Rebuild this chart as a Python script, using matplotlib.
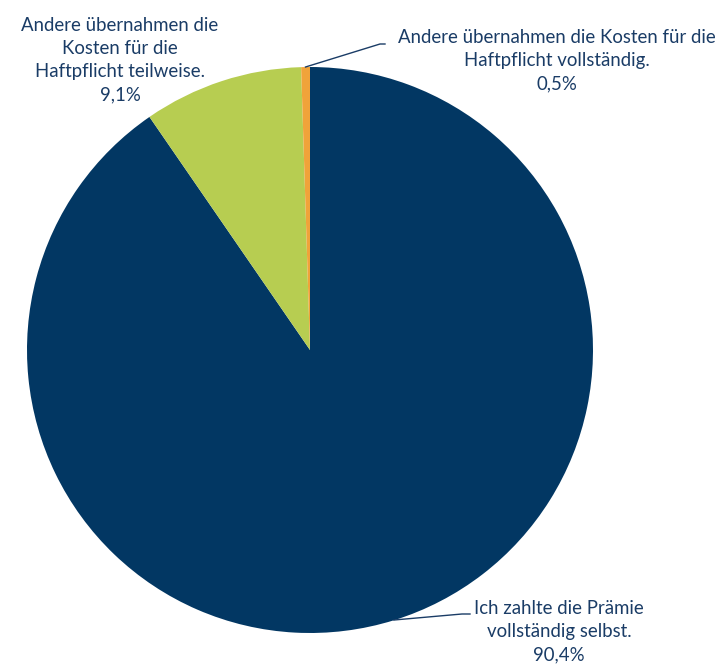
import matplotlib.pyplot as plt

labels = ["Ich zahlte die Prämie\nvollständig selbst.",
          "Andere übernahmen die\nKosten für die\nHaftpflicht teilweise.",
          "Andere übernahmen die Kosten für die\nHaftpflicht vollständig."]
values = [90.4, 9.1, 0.5]
pct_text = ["90,4%", "9,1%", "0,5%"]
colors = ["#023763", "#B7CD51", "#F0A33A"]
text_color = "#1A3C66"

W, H = 717, 666
cx, cy, R = 310, 350, 283

fig = plt.figure(figsize=(W / 100, H / 100), dpi=100)
ax = fig.add_axes([(cx - R) / W, (H - cy - R) / H, 2 * R / W, 2 * R / H])
ax.pie(values, colors=colors, startangle=90, counterclock=False, radius=1,
       wedgeprops=dict(linewidth=0))
ax.set_xlim(-1, 1)
ax.set_ylim(-1, 1)
ax.axis("off")


def d(px, py):
    # pixel position -> data coordinates of the pie axes
    return ((px - cx) / R, (cy - py) / R)


font = dict(family=["Lato", "DejaVu Sans"], fontsize=13.4, color=text_color,
            ha="center", va="top", linespacing=1.43)

# label text blocks
x, y = d(120, 17)
ax.text(x, y, labels[1] + "\n" + pct_text[1], clip_on=False, **font)
x, y = d(557, 29)
ax.text(x, y, labels[2] + "\n" + pct_text[2], clip_on=False, **font)
x, y = d(559, 600)
ax.text(x, y, labels[0] + "\n" + pct_text[0], clip_on=False, **font)

# leader lines
for pts in ([(305.5, 67), (380, 44), (385, 44)],
            [(394, 620), (462, 614), (470, 614)]):
    xs, ys = zip(*[d(px, py) for px, py in pts])
    ax.plot(xs, ys, color=text_color, linewidth=1, clip_on=False)

fig.savefig("out.png", dpi=100)
